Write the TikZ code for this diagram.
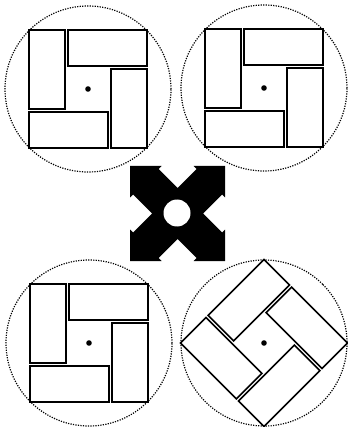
\documentclass[tikz,border=0pt]{standalone}
\usepackage{tikz}

\begin{document}
\begin{tikzpicture}[x=1pt, y=-1pt,
  brick/.style={draw=black, line width=1.6pt, fill=white, line join=miter},
  rim/.style={draw=black, line width=1.2pt, dash pattern=on 1.2pt off 1.3pt},
  hub/.style={fill=black}]
  \useasboundingbox (0,0) rectangle (347,427);
  % pinwheel discs: centre x / centre y / turn
  \foreach \cx/\cy/\turn in {88/89/0, 264/88/0, 89/343/0, 264/343/45}{
    \begin{scope}[shift={(\cx,\cy)}, rotate=\turn]
      \draw[rim] (0,0) circle (83pt);
      % four bricks, one per quarter turn
      \foreach \a in {0,90,180,270}
        \draw[brick, rotate=\a] (-59,-59) rectangle (-23,20);
      \fill[hub] (0,0) circle (2.8pt);
    \end{scope}
  }
  % black cross with four corner arrows
  \def\ha{47.5}
  \fill[black, shift={(177.5,213.5)}]
    (-\ha,-\ha) -- (-16,-\ha) -- (-19,-44.5) -- (0,-25.5) -- (19,-44.5) -- (16,-\ha)
    -- (\ha,-\ha) -- (\ha,-16) -- (44.5,-19) -- (25.5,0) -- (44.5,19) -- (\ha,16)
    -- (\ha,\ha) -- (16,\ha) -- (19,44.5) -- (0,25.5) -- (-19,44.5) -- (-16,\ha)
    -- (-\ha,\ha) -- (-\ha,16) -- (-44.5,19) -- (-25.5,0) -- (-44.5,-19) -- (-\ha,-16)
    -- cycle;
  \fill[white] (177,213) circle (13.5pt);
\end{tikzpicture}
\end{document}
